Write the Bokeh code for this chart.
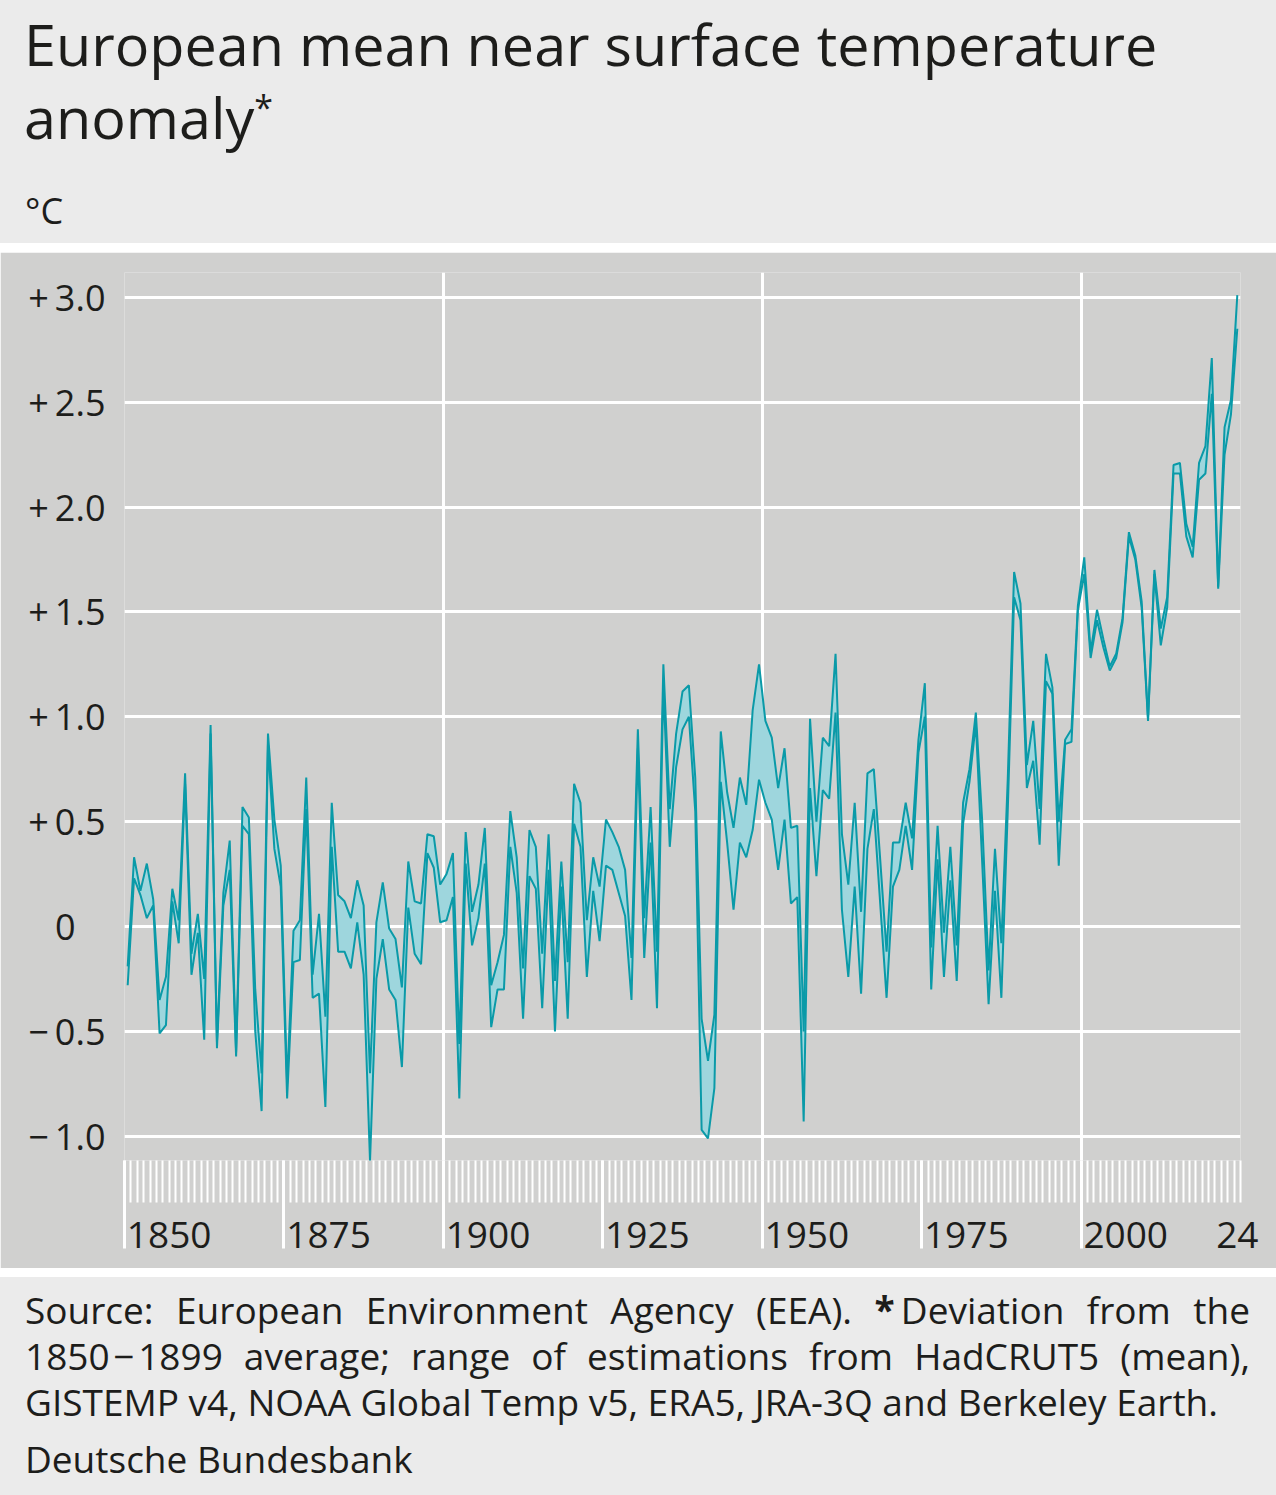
from bokeh.plotting import figure
from bokeh.models import Range1d, LinearAxis, FixedTicker, Div
from bokeh.layouts import column
from bokeh.embed import file_html
from bokeh.resources import INLINE

# ---------------- data ----------------
years = list(range(1850, 2025))

upper = [
    -0.19, 0.33, 0.17, 0.30, 0.13, -0.35, -0.24, 0.18, 0.03, 0.73,      # 1850s
    -0.13, 0.06, -0.25, 0.96, -0.55, 0.16, 0.41, -0.60, 0.57, 0.52,     # 1860s
    -0.30, -0.70, 0.92, 0.51, 0.29, -0.75, -0.02, 0.03, 0.71, -0.23,    # 1870s
    0.06, -0.43, 0.59, 0.15, 0.12, 0.04, 0.22, 0.10, -0.70, 0.02,       # 1880s
    0.21, -0.01, -0.06, -0.29, 0.31, 0.12, 0.11, 0.44, 0.43, 0.20,      # 1890s
    0.25, 0.35, -0.56, 0.45, 0.07, 0.20, 0.47, -0.28, -0.17, -0.04,     # 1900s
    0.55, 0.33, -0.20, 0.46, 0.38, -0.13, 0.44, -0.26, 0.31, -0.17,     # 1910s
    0.68, 0.59, 0.03, 0.33, 0.19, 0.51, 0.45, 0.38, 0.27, -0.15,        # 1920s
    0.94, 0.04, 0.57, -0.12, 1.25, 0.56, 0.92, 1.12, 1.15, 0.71,        # 1930s
    -0.44, -0.64, -0.42, 0.93, 0.64, 0.47, 0.71, 0.58, 1.03, 1.25,      # 1940s
    0.98, 0.90, 0.66, 0.85, 0.47, 0.48, -0.50, 0.99, 0.50, 0.90,        # 1950s
    0.86, 1.30, 0.44, 0.20, 0.59, 0.07, 0.73, 0.75, 0.32, -0.12,        # 1960s
    0.40, 0.40, 0.59, 0.42, 0.89, 1.16, -0.10, 0.48, -0.03, 0.38,       # 1970s
    -0.09, 0.59, 0.75, 1.02, 0.50, -0.21, 0.37, -0.08, 0.70, 1.69,      # 1980s
    1.54, 0.77, 0.98, 0.56, 1.30, 1.14, 0.50, 0.89, 0.94, 1.53,         # 1990s
    1.76, 1.31, 1.51, 1.37, 1.24, 1.30, 1.47, 1.88, 1.77, 1.55,         # 2000s
    0.99, 1.70, 1.42, 1.57, 2.20, 2.21, 1.92, 1.81, 2.21, 2.29,         # 2010s
    2.71, 1.62, 2.38, 2.51, 3.01,                                       # 2020-2024
]

lower = [
    -0.28, 0.23, 0.15, 0.04, 0.10, -0.51, -0.47, 0.12, -0.08, 0.68,     # 1850s
    -0.23, -0.03, -0.54, 0.92, -0.58, 0.10, 0.27, -0.62, 0.48, 0.44,    # 1860s
    -0.50, -0.88, 0.87, 0.37, 0.19, -0.82, -0.17, -0.16, 0.56, -0.34,   # 1870s
    -0.32, -0.86, 0.38, -0.12, -0.12, -0.20, 0.02, -0.23, -1.12, -0.25, # 1880s
    -0.06, -0.30, -0.35, -0.67, 0.09, -0.13, -0.18, 0.35, 0.28, 0.02,   # 1890s
    0.03, 0.14, -0.82, 0.30, -0.09, 0.04, 0.30, -0.48, -0.30, -0.30,    # 1900s
    0.38, 0.16, -0.44, 0.24, 0.18, -0.39, 0.27, -0.50, 0.19, -0.44,     # 1910s
    0.49, 0.38, -0.24, 0.17, -0.07, 0.29, 0.27, 0.16, 0.05, -0.35,      # 1920s
    0.85, -0.15, 0.40, -0.39, 1.15, 0.38, 0.76, 0.94, 1.00, 0.55,       # 1930s
    -0.97, -1.01, -0.77, 0.69, 0.40, 0.08, 0.40, 0.33, 0.46, 0.70,      # 1940s
    0.59, 0.51, 0.27, 0.51, 0.11, 0.14, -0.93, 0.66, 0.24, 0.65,        # 1950s
    0.61, 1.02, 0.08, -0.24, 0.19, -0.32, 0.37, 0.56, 0.11, -0.34,      # 1960s
    0.19, 0.27, 0.48, 0.27, 0.83, 1.00, -0.30, 0.32, -0.24, 0.22,       # 1970s
    -0.26, 0.49, 0.69, 0.97, 0.30, -0.37, 0.17, -0.34, 0.55, 1.57,      # 1980s
    1.46, 0.66, 0.79, 0.39, 1.17, 1.11, 0.29, 0.87, 0.88, 1.51,         # 1990s
    1.68, 1.28, 1.46, 1.33, 1.22, 1.28, 1.45, 1.86, 1.75, 1.52,         # 2000s
    0.98, 1.68, 1.34, 1.52, 2.16, 2.16, 1.86, 1.76, 2.13, 2.16,         # 2010s
    2.54, 1.61, 2.25, 2.44, 2.85,                                       # 2020-2024
]

y_ticks = [-1.0, -0.5, 0.0, 0.5, 1.0, 1.5, 2.0, 2.5, 3.0]
y_tick_labels = ["\u2212\u20091.0", "\u2212\u20090.5", "0\u2008\u2007", "+\u20090.5", "+\u20091.0",
                 "+\u20091.5", "+\u20092.0", "+\u20092.5", "+\u20093.0"]
x_major_ticks = [1850, 1875, 1900, 1925, 1950, 1975, 2000]
x_minor_ticks = list(range(1850, 2026))
x_tick_labels = ["1850", "1875", "1900", "1925", "1950", "1975", "2000", "24"]
x_label_pos = [1857, 1882, 1907, 1932, 1957, 1982, 2007, 2024.5]
x_grid_years = [1900, 1950, 2000]

# ---------------- style ----------------
HEADER_BG = "#ebebeb"
PANEL_BG = "#d0d0cf"
LINE = "#0a9aa8"
FILL = "#9ed6dd"
TEXT = "#1d1d1b"
FONT = "Open Sans"

assert len(upper) == len(years) == len(lower)
xs = [y + 0.5 for y in years]

Y_START, Y_END = -1.1156, 3.118

p = figure(width=1276, height=1016,
           x_range=Range1d(1850, 2025), y_range=Range1d(Y_START, Y_END),
           output_backend="svg", toolbar_location=None,
           x_axis_location=None, y_axis_location="left",
           min_border_left=124, min_border_right=36,
           min_border_top=20, min_border_bottom=108,
           background_fill_color=PANEL_BG, border_fill_color=PANEL_BG,
           outline_line_color=None, margin=(0, 0, 0, 0))

# grids
p.xgrid.ticker = FixedTicker(ticks=x_grid_years)
p.xgrid.grid_line_color = "white"
p.xgrid.grid_line_width = 3
p.ygrid.grid_line_color = "white"
p.ygrid.grid_line_width = 3

# y axis
ya = p.yaxis[0]
ya.ticker = FixedTicker(ticks=y_ticks)
ya.major_label_overrides = dict(zip(y_ticks, y_tick_labels))
ya.axis_line_color = None
ya.major_tick_out = 0
ya.major_tick_in = 0
ya.minor_tick_out = 0
ya.minor_tick_in = 0
ya.major_label_standoff = 19
ya.major_label_text_font = FONT
ya.major_label_text_font_size = "36px"
ya.major_label_text_color = TEXT

SHORT = 42   # length of the yearly ticks
LONG = 88    # length of the quarter-century ticks

# x axis 1 (next to the frame): short yearly ticks only
xa_short = LinearAxis(
    ticker=FixedTicker(ticks=[], minor_ticks=x_minor_ticks),
    axis_line_color=None,
    major_tick_out=0, major_tick_in=0,
    minor_tick_out=SHORT, minor_tick_in=0,
    minor_tick_line_color="white", minor_tick_line_width=2,
)
p.add_layout(xa_short, "below")

# x axis 2 (stacked below it): long ticks reaching back up to the frame + labels
xa_long = LinearAxis(
    ticker=FixedTicker(ticks=x_label_pos, minor_ticks=x_major_ticks),
    major_label_overrides=dict(zip(x_label_pos, x_tick_labels)),
    axis_line_color=None,
    major_tick_out=LONG - SHORT, major_tick_in=0, major_tick_line_color=None,
    minor_tick_out=LONG - SHORT, minor_tick_in=SHORT,
    minor_tick_line_color="white", minor_tick_line_width=3,
    major_label_standoff=-27,
    major_label_text_font=FONT, major_label_text_font_size="37px",
    major_label_text_color=TEXT,
)
p.add_layout(xa_long, "below")

# data
p.varea(x=xs, y1=lower, y2=upper, fill_color=FILL, fill_alpha=1.0)
p.line(xs, upper, line_color=LINE, line_width=2)
p.line(xs, lower, line_color=LINE, line_width=2)

header_html = f"""
<div style="position:relative;width:1276px;height:243px;background:{HEADER_BG};font-family:'{FONT}';color:{TEXT};">
  <div style="position:absolute;left:24px;top:8px;font-size:57.5px;line-height:73px;white-space:nowrap;">European mean near surface temperature<br>anomaly<span style="position:relative;top:-19px;font-size:34px;line-height:0;">*</span></div>
  <div style="position:absolute;left:25px;top:193px;font-size:36px;line-height:36px;white-space:nowrap;">°C</div>
</div>
"""

footer_html = f"""
<div style="position:relative;width:1276px;height:218px;background:{HEADER_BG};font-family:'{FONT}';font-size:37px;color:{TEXT};">
  <div style="position:absolute;left:25px;top:10px;width:1225px;line-height:46px;">
    <div style="text-align:justify;text-align-last:justify;white-space:nowrap;">Source: European Environment Agency (EEA). <b>*</b>&#8201;Deviation from the</div>
    <div style="text-align:justify;text-align-last:justify;white-space:nowrap;">1850&#8202;&#8722;&#8202;1899 average; range of estimations from HadCRUT5 (mean),</div>
    <div style="text-align:left;white-space:nowrap;">GISTEMP v4, NOAA Global Temp v5, ERA5, JRA-3Q and Berkeley Earth.</div>
  </div>
  <div style="position:absolute;left:25px;top:159px;line-height:46px;white-space:nowrap;">Deutsche Bundesbank</div>
</div>
"""

header = Div(text=header_html, width=1276, height=243, margin=(0, 0, 0, 0),
             styles={"background-color": HEADER_BG})
footer = Div(text=footer_html, width=1276, height=218, margin=(0, 0, 0, 0),
             styles={"background-color": HEADER_BG})

layout = column(header, p, footer, spacing=9, margin=(0, 0, 0, 0))

open("out.html", "w").write(file_html(layout, INLINE))
